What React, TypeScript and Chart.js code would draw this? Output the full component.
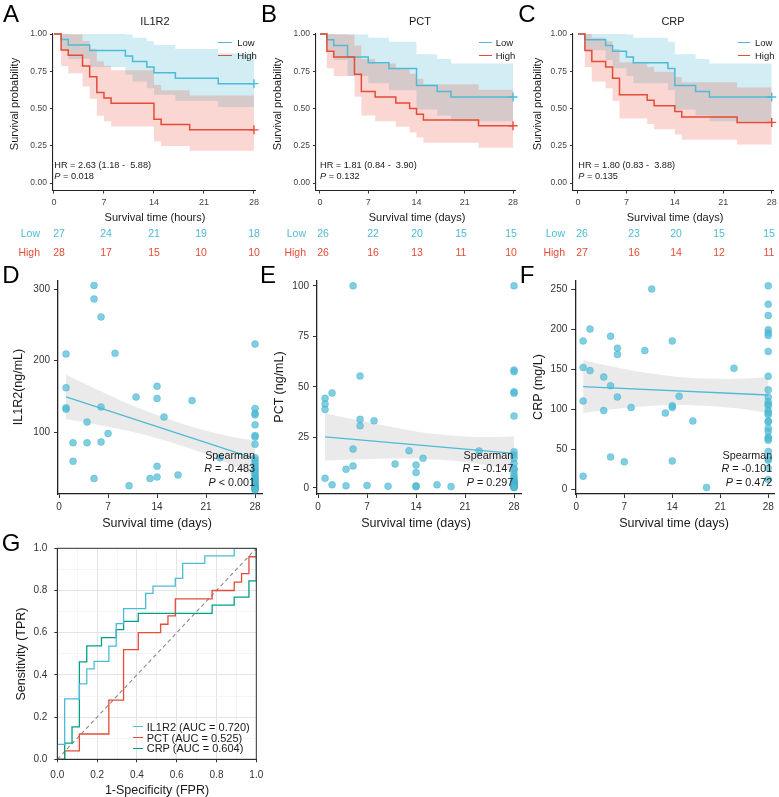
import React, { useEffect, useRef } from "react";
import { Chart, registerables } from "chart.js";

Chart.register(...registerables);

const W = 779;
const H = 797;
const FONT = "'Liberation Sans', Arial, Helvetica, sans-serif";
Chart.defaults.font.family = FONT;

const CYAN = "#4DBBD5";
const RED = "#E64B35";
const TEAL = "#00A087";
const CYAN_FILL = "rgba(77,187,213,0.25)";
const RED_FILL = "rgba(230,75,53,0.22)";
const PT_FILL = "rgba(77,187,213,0.72)";
const BAND_FILL = "rgba(180,180,180,0.28)";

// ---------- Kaplan-Meier (A-C) ----------
const KM_XTICKS = [0, 7, 14, 21, 28];
const KM_YTICKS = [0, 0.25, 0.5, 0.75, 1];

const A_LOW_T = [0, 1, 2, 5, 10, 11, 13, 14, 17, 23, 28];
const A_LOW_S = [1, 0.963, 0.926, 0.889, 0.852, 0.815, 0.778, 0.741, 0.704, 0.667, 0.667];
const A_LOW_LO = [1, 0.894, 0.832, 0.778, 0.728, 0.681, 0.636, 0.593, 0.551, 0.511, 0.511];
const A_LOW_HI = [1, 1, 1, 1, 0.997, 0.975, 0.951, 0.926, 0.899, 0.871, 0.871];
const A_HIGH_T = [0, 1, 2, 4, 5, 6, 7, 8, 14, 15, 19, 28];
const A_HIGH_S = [1, 0.893, 0.857, 0.786, 0.714, 0.607, 0.571, 0.536, 0.429, 0.393, 0.357, 0.357];
const A_HIGH_LO = [1, 0.785, 0.737, 0.648, 0.565, 0.451, 0.414, 0.38, 0.28, 0.248, 0.217, 0.217];
const A_HIGH_HI = [1, 1, 0.997, 0.954, 0.902, 0.818, 0.787, 0.757, 0.658, 0.623, 0.587, 0.587];

const B_LOW_T = [0, 1, 2, 4, 7, 10, 14, 17, 19, 28];
const B_LOW_S = [1, 0.962, 0.923, 0.846, 0.808, 0.769, 0.654, 0.615, 0.577, 0.577];
const B_LOW_LO = [1, 0.891, 0.826, 0.718, 0.67, 0.623, 0.494, 0.454, 0.415, 0.415];
const B_LOW_HI = [1, 1, 1, 0.997, 0.975, 0.949, 0.865, 0.833, 0.802, 0.802];
const B_HIGH_T = [0, 1, 2, 5, 6, 8, 11, 13, 14, 15, 23, 28];
const B_HIGH_S = [1, 0.885, 0.846, 0.731, 0.615, 0.577, 0.538, 0.5, 0.462, 0.423, 0.385, 0.385];
const B_HIGH_LO = [1, 0.77, 0.718, 0.579, 0.454, 0.415, 0.377, 0.34, 0.305, 0.27, 0.237, 0.237];
const B_HIGH_HI = [1, 1, 0.997, 0.923, 0.833, 0.802, 0.768, 0.734, 0.7, 0.663, 0.626, 0.626];

const C_LOW_T = [0, 1, 4, 5, 7, 8, 13, 14, 17, 19, 28];
const C_LOW_S = [1, 0.962, 0.923, 0.885, 0.846, 0.808, 0.769, 0.654, 0.615, 0.577, 0.577];
const C_LOW_LO = [1, 0.891, 0.826, 0.77, 0.718, 0.67, 0.623, 0.494, 0.454, 0.415, 0.415];
const C_LOW_HI = [1, 1, 1, 1, 0.997, 0.975, 0.949, 0.865, 0.833, 0.802, 0.802];
const C_HIGH_T = [0, 1, 2, 4, 5, 6, 10, 11, 14, 15, 23, 28];
const C_HIGH_S = [1, 0.889, 0.815, 0.778, 0.704, 0.593, 0.556, 0.519, 0.481, 0.444, 0.407, 0.407];
const C_HIGH_LO = [1, 0.778, 0.681, 0.636, 0.551, 0.434, 0.397, 0.361, 0.325, 0.291, 0.258, 0.258];
const C_HIGH_HI = [1, 1, 0.975, 0.951, 0.899, 0.811, 0.779, 0.747, 0.711, 0.677, 0.641, 0.641];

// numbers at risk
const A_RISK_LOW = [27, 24, 21, 19, 18];
const A_RISK_HIGH = [28, 17, 15, 10, 10];
const B_RISK_LOW = [26, 22, 20, 15, 15];
const B_RISK_HIGH = [26, 16, 13, 11, 10];
const C_RISK_LOW = [26, 23, 20, 15, 15];
const C_RISK_HIGH = [27, 16, 14, 12, 11];

// ---------- Scatter (D-F) ----------
const SC_XTICKS = [0, 7, 14, 21, 28];
const D_YTICKS = [100, 200, 300];
const E_YTICKS = [0, 25, 50, 75, 100];
const F_YTICKS = [0, 50, 100, 150, 200, 250];

const D_DAYS = [1, 1, 1, 1, 2, 2, 4, 4, 5, 5, 5, 6, 6, 6, 7, 8, 10, 11, 13, 14, 14, 14, 14, 15, 17, 19, 23,
  28, 28, 28, 28, 28, 28, 28, 28, 28, 28, 28, 28, 28, 28, 28, 28, 28, 28, 28, 28, 28, 28, 28, 28, 28, 28, 28, 28];
const D_IL1R2 = [209, 162, 134, 132, 85, 59, 114, 85, 305, 286, 35, 261, 135, 86, 98, 210, 25, 149, 35, 164, 147, 52, 37, 121, 40, 144, 64,
  223, 133, 126, 124, 110, 95, 93, 83, 64, 60, 56, 52, 48, 45, 42, 39, 36, 34, 32, 30, 28, 26, 24, 23, 22, 21, 20, 19];

const E_DAYS = [1, 1, 1, 1, 2, 2, 4, 4, 5, 5, 5, 6, 6, 6, 7, 8, 10, 11, 13, 14, 14, 14, 14, 15, 17, 19, 23,
  28, 28, 28, 28, 28, 28, 28, 28, 28, 28, 28, 28, 28, 28, 28, 28, 28, 28, 28, 28, 28, 28, 28, 28, 28, 28, 28, 28];
const E_PCT = [44.3, 41.5, 38.8, 4.7, 47, 1.5, 9.2, 1, 100, 19.2, 10.8, 55.3, 33.9, 30.7, 1.2, 33.2, 0.8, 11.8, 18.4, 11.3, 7.6, 1, 0.5, 14.6, 1.5, 0.6, 18.2,
  100, 58.3, 57.5, 47.5, 46.8, 35.5, 17.9, 16.2, 14.6, 12, 9.6, 8.8, 7, 5.5, 4.5, 3.5, 3, 2.5, 2, 1.8, 1.5, 1.2, 1, 0.8, 0.6, 0.4, 0.2, 0.1];

const F_DAYS = [1, 1, 1, 1, 2, 2, 4, 4, 5, 5, 5, 6, 6, 6, 7, 8, 10, 11, 13, 14, 14, 14, 14, 15, 17, 19, 23,
  28, 28, 28, 28, 28, 28, 28, 28, 28, 28, 28, 28, 28, 28, 28, 28, 28, 28, 28, 28, 28, 28, 28, 28, 28, 28, 28, 28];
const F_CRP = [185, 152, 110, 16, 200, 148, 140, 98, 191, 129, 40, 176, 168, 115, 34, 102, 173, 250, 95, 185, 104, 102, 35, 116, 85, 2, 151,
  254, 231, 217, 199, 195, 192, 172, 141, 124, 115, 109, 106, 104, 98, 95, 93, 85, 84, 76, 72, 65, 63, 61, 47, 38, 36, 26, 12];

// fitted lines and 95% bands
const FIT_T = [1, 28];
const D_FIT = [149, 62.9];
const E_FIT = [25.2, 17.0];
const F_FIT = [128, 117.5];
const BAND_T = [1, 5, 10, 15, 20, 25, 28];
const D_BAND_HI = [180, 161.3, 139.3, 120.4, 104.5, 92.6, 87.9];
const D_BAND_LO = [118, 111.3, 101.3, 88.4, 72.5, 52.6, 37.9];
const E_BAND_HI = [36.9, 34, 30.5, 27.4, 25.7, 25.1, 25.5];
const E_BAND_LO = [13.5, 14, 14.5, 14.4, 13.1, 10.7, 8.5];
const F_BAND_HI = [161, 153.4, 145.5, 140.1, 137.8, 138.2, 140];
const F_BAND_LO = [95, 99.4, 103.5, 105.1, 103.4, 99.2, 95];

// ---------- ROC (G) ----------
const ROC_GRID = [0, 0.1, 0.2, 0.3, 0.4, 0.5, 0.6, 0.7, 0.8, 0.9, 1];
const IL1R2_FPR = [0, 0, 0.037, 0.037, 0.111, 0.111, 0.148, 0.148, 0.185, 0.185, 0.259, 0.259, 0.296, 0.296, 0.333, 0.333, 0.444, 0.444, 0.481, 0.481, 0.593, 0.593, 0.63, 0.63, 0.741, 0.741, 0.889, 0.889, 1];
const IL1R2_TPR = [0, 0.071, 0.071, 0.286, 0.286, 0.357, 0.357, 0.429, 0.429, 0.464, 0.464, 0.536, 0.536, 0.643, 0.643, 0.714, 0.714, 0.786, 0.786, 0.821, 0.821, 0.857, 0.857, 0.929, 0.929, 0.964, 0.964, 1, 1];
const PCT_FPR = [0, 0.037, 0.037, 0.111, 0.111, 0.259, 0.259, 0.333, 0.333, 0.407, 0.407, 0.519, 0.519, 0.556, 0.556, 0.593, 0.593, 0.778, 0.778, 0.889, 0.889, 0.926, 0.926, 0.963, 0.963, 1, 1];
const PCT_TPR = [0, 0, 0.04, 0.04, 0.12, 0.12, 0.28, 0.28, 0.52, 0.52, 0.6, 0.6, 0.64, 0.64, 0.68, 0.68, 0.76, 0.76, 0.8, 0.8, 0.84, 0.84, 0.88, 0.88, 0.96, 0.96, 1];
const CRP_FPR = [0, 0.037, 0.037, 0.074, 0.074, 0.111, 0.111, 0.148, 0.148, 0.222, 0.222, 0.296, 0.296, 0.333, 0.333, 0.407, 0.407, 0.778, 0.778, 0.889, 0.889, 0.963, 0.963, 1, 1];
const CRP_TPR = [0, 0, 0.077, 0.077, 0.154, 0.154, 0.462, 0.462, 0.538, 0.538, 0.577, 0.577, 0.615, 0.615, 0.654, 0.654, 0.692, 0.692, 0.731, 0.731, 0.769, 0.769, 0.846, 0.846, 1];
const DIAG = [0, 1];

// ---------- helpers ----------
const zip = (xs: number[], ys: number[]) => xs.map((x, i) => ({ x, y: ys[i] }));

function pad(L: number, T: number, R: number, B: number, yw: number, xh: number) {
  return { left: L - yw, top: T, right: W - R, bottom: H - B - xh };
}

function axis(kind: "x" | "y", o: any) {
  return {
    type: "linear",
    position: kind === "x" ? "bottom" : "left",
    min: o.min,
    max: o.max,
    afterBuildTicks: (s: any) => {
      s.ticks = o.ticks.map((v: number) => ({ value: v }));
    },
    afterFit: (s: any) => {
      if (kind === "x") s.height = o.fit;
      else s.width = o.fit;
      s.paddingLeft = 0;
      s.paddingRight = 0;
      s.paddingTop = 0;
      s.paddingBottom = 0;
    },
    grid: {
      display: true,
      drawOnChartArea: !!o.gridOn,
      drawTicks: true,
      tickLength: o.tickLen,
      color: o.gridColor || "#333",
      tickColor: o.tickColor || "#333",
      lineWidth: o.lineWidth || 1,
      tickWidth: 1,
    },
    border: { display: true, color: "#222", width: o.borderWidth || 1.1 },
    ticks: {
      autoSkip: false,
      maxRotation: 0,
      minRotation: 0,
      padding: o.pad,
      color: o.color || "#333",
      font: { family: FONT, size: o.size },
      callback: (v: any) => o.fmt(Number(v)),
    },
  };
}

const baseOpts = (padding: any, scales: any) => ({
  responsive: false,
  animation: false,
  events: [],
  layout: { padding },
  plugins: { legend: { display: false }, tooltip: { enabled: false }, title: { display: false } },
  scales,
});

const KM_T = 33.3;
const KM_B = 190.5;
const KM_PANELS = [
  { L: 52.9, R: 255.4, xmin: -0.15, xmax: 28.2, low: [A_LOW_T, A_LOW_S, A_LOW_LO, A_LOW_HI], high: [A_HIGH_T, A_HIGH_S, A_HIGH_LO, A_HIGH_HI] },
  { L: 316, R: 515.1, xmin: -0.58, xmax: 28.3, low: [B_LOW_T, B_LOW_S, B_LOW_LO, B_LOW_HI], high: [B_HIGH_T, B_HIGH_S, B_HIGH_LO, B_HIGH_HI] },
  { L: 573, R: 773.4, xmin: -0.72, xmax: 28.2, low: [C_LOW_T, C_LOW_S, C_LOW_LO, C_LOW_HI], high: [C_HIGH_T, C_HIGH_S, C_HIGH_LO, C_HIGH_HI] },
];

function kmLine(g: number[][], color: string) {
  const n = g[0].length;
  return {
    data: zip(g[0], g[1]),
    stepped: "before",
    borderColor: color,
    borderWidth: 1.5,
    pointStyle: "cross",
    pointRadius: (c: any) => (c.dataIndex === n - 1 ? 4.5 : 0),
    pointBorderColor: color,
    pointBorderWidth: 1.4,
    fill: false,
    clip: false,
  };
}
function kmBand(xs: number[], ys: number[], fillColor: string | null) {
  return {
    data: zip(xs, ys),
    stepped: "before",
    borderWidth: 0,
    borderColor: "rgba(0,0,0,0)",
    pointRadius: 0,
    fill: fillColor ? "+1" : false,
    backgroundColor: fillColor || "rgba(0,0,0,0)",
  };
}

function kmConfig(p: any) {
  return {
    type: "line",
    data: {
      datasets: [
        kmLine(p.high, RED),
        kmLine(p.low, CYAN),
        kmBand(p.high[0], p.high[3], RED_FILL),
        kmBand(p.high[0], p.high[2], null),
        kmBand(p.low[0], p.low[3], CYAN_FILL),
        kmBand(p.low[0], p.low[2], null),
      ],
    },
    options: baseOpts(pad(p.L, KM_T, p.R, KM_B, 30, 20), {
      x: axis("x", { min: p.xmin, max: p.xmax, ticks: KM_XTICKS, fit: 20, tickLen: 3, pad: 4, size: 9, color: "#444", fmt: (v: number) => String(v) }),
      y: axis("y", { min: -0.05, max: 1.005, ticks: KM_YTICKS, fit: 30, tickLen: 3, pad: 3, size: 8.5, color: "#444", fmt: (v: number) => v.toFixed(2) }),
    }),
  };
}

const SC_T = 281;
const SC_B = 494;
const SC_PANELS = [
  { L: 58, R: 262, ymin: 13.3, ymax: 311.2, yt: D_YTICKS, days: D_DAYS, vals: D_IL1R2, fit: D_FIT, hi: D_BAND_HI, lo: D_BAND_LO },
  { L: 317, R: 521, ymin: -3.07, ymax: 102.4, yt: E_YTICKS, days: E_DAYS, vals: E_PCT, fit: E_FIT, hi: E_BAND_HI, lo: E_BAND_LO },
  { L: 575.25, R: 778.6, ymin: -6.25, ymax: 260, yt: F_YTICKS, days: F_DAYS, vals: F_CRP, fit: F_FIT, hi: F_BAND_HI, lo: F_BAND_LO },
];

function scConfig(p: any) {
  return {
    type: "line",
    data: {
      datasets: [
        { data: zip(p.days, p.vals), showLine: false, pointRadius: 3.5, pointBackgroundColor: PT_FILL, pointBorderColor: "rgba(60,170,200,0.55)", pointBorderWidth: 0.6, clip: false },
        { data: zip(FIT_T, p.fit), borderColor: CYAN, borderWidth: 1.3, pointRadius: 0, fill: false },
        { data: zip(BAND_T, p.hi), borderWidth: 0, borderColor: "rgba(0,0,0,0)", pointRadius: 0, tension: 0.35, fill: "+1", backgroundColor: BAND_FILL },
        { data: zip(BAND_T, p.lo), borderWidth: 0, borderColor: "rgba(0,0,0,0)", pointRadius: 0, tension: 0.35, fill: false },
      ],
    },
    options: baseOpts(pad(p.L, SC_T, p.R, SC_B, 30, 20), {
      x: axis("x", { min: -0.15, max: (p.R - p.L) / 7 - 0.15, ticks: SC_XTICKS, fit: 20, tickLen: 4, pad: 3, size: 10, color: "#333", borderWidth: 1.3, fmt: (v: number) => String(v) }),
      y: axis("y", { min: p.ymin, max: p.ymax, ticks: p.yt, fit: 30, tickLen: 4, pad: 4, size: 10, color: "#333", borderWidth: 1.3, fmt: (v: number) => String(v) }),
    }),
  };
}

const isMajor = (v: number) => Math.round(v * 10) % 2 === 0;
const boxPlugin = {
  id: "panelBox",
  afterDatasetsDraw(chart: any) {
    const { ctx, chartArea: a } = chart;
    ctx.save();
    ctx.strokeStyle = "#333";
    ctx.lineWidth = 1;
    ctx.strokeRect(a.left, a.top, a.right - a.left, a.bottom - a.top);
    ctx.restore();
  },
};

function rocConfig() {
  const gridOpt = (kind: "x" | "y") =>
    axis(kind, {
      min: 0,
      max: 1,
      ticks: ROC_GRID,
      fit: kind === "x" ? 20 : 30,
      tickLen: 3,
      pad: 7,
      size: 10,
      color: "#333",
      gridOn: true,
      gridColor: (c: any) => (isMajor(c.tick.value) ? "#e4e4e4" : "#f1f1f1"),
      tickColor: (c: any) => (isMajor(c.tick.value) ? "#333" : "rgba(0,0,0,0)"),
      lineWidth: (c: any) => (isMajor(c.tick.value) ? 1 : 0.7),
      borderWidth: 1,
      fmt: (v: number) => (isMajor(v) ? v.toFixed(1) : ""),
    });
  return {
    type: "line",
    data: {
      datasets: [
        { data: zip(IL1R2_FPR, IL1R2_TPR), borderColor: CYAN, borderWidth: 1.3, pointRadius: 0, fill: false },
        { data: zip(CRP_FPR, CRP_TPR), borderColor: TEAL, borderWidth: 1.3, pointRadius: 0, fill: false },
        { data: zip(PCT_FPR, PCT_TPR), borderColor: RED, borderWidth: 1.3, pointRadius: 0, fill: false },
        { data: zip(DIAG, DIAG), borderColor: "#8a8a8a", borderWidth: 1.1, borderDash: [4, 3], pointRadius: 0, fill: false },
      ],
    },
    options: baseOpts(pad(57.3, 548.3, 256.3, 759.3, 30, 20), { x: gridOpt("x"), y: gridOpt("y") }),
    plugins: [boxPlugin],
  };
}

// ---------- text overlay ----------
function Txt(props: any) {
  const { x, y, s, c = "#1a1a1a", a = "c", r = false, children } = props;
  const tx = a === "l" ? "0" : a === "r" ? "-100%" : "-50%";
  return (
    <div
      style={{
        position: "absolute",
        left: x,
        top: y,
        transform: r ? "translate(-50%,-50%) rotate(-90deg)" : `translate(${tx},-50%)`,
        fontSize: s,
        fontFamily: FONT,
        color: c,
        lineHeight: 1,
        whiteSpace: "pre",
      }}
    >
      {children}
    </div>
  );
}
function Seg(props: any) {
  const { x1, x2, y, c, w = 1.6 } = props;
  return <div style={{ position: "absolute", left: x1, top: y - w / 2, width: x2 - x1, height: w, background: c }} />;
}

const RISK_X = [
  [59, 106, 154, 201, 254],
  [323, 373, 417, 461, 511],
  [582, 634, 676, 719, 769],
];
const RISK = [
  [A_RISK_LOW, A_RISK_HIGH],
  [B_RISK_LOW, B_RISK_HIGH],
  [C_RISK_LOW, C_RISK_HIGH],
];
const RISK_LABEL_R = [40, 306, 565];
const KM_TITLES = ["IL1R2", "PCT", "CRP"];
const KM_TITLE_X = [155, 420, 673];
const KM_YT_X = [14, 277, 537];
const KM_XT = ["Survival time (hours)", "Survival time (days)", "Survival time (days)"];
const KM_XT_X = [155, 417, 675];
const HR_TXT = ["HR = 2.63 (1.18 -  5.88)", "HR = 1.81 (0.84 -  3.90)", "HR = 1.80 (0.83 -  3.88)"];
const P_TXT = [" = 0.018", " = 0.132", " = 0.135"];
const HR_X = [54.3, 320, 578.3];
const LEG_X = [[218.3, 231.7, 237.3], [479, 491.7, 495.7], [738.3, 750, 755]];

const SC_YT = ["IL1R2(ng/mL)", "PCT (ng/mL)", "CRP (mg/L)"];
const SC_YT_X = [18, 279, 538];
const SC_XT_X = [157, 416, 674];
const SP_R = ["-0.483", "-0.147", "-0.101"];
const SP_P = [" < 0.001", " = 0.297", " = 0.472"];
const SP_X = [255, 513.3, 772.3];

const LETTERS = [
  ["A", 11, 14], ["B", 269, 14], ["C", 527, 14],
  ["D", 11, 275], ["E", 268, 275], ["F", 527, 275], ["G", 11, 543],
];

const ROC_LEG = [
  ["IL1R2 (AUC = 0.720)", CYAN],
  ["PCT (AUC = 0.525)", RED],
  ["CRP (AUC = 0.604)", TEAL],
];
const ROC_LEG_Y = [726.7, 737.5, 748.3];

export default function App() {
  const refs = useRef<(HTMLCanvasElement | null)[]>([]);
  const N = 7;
  useEffect(() => {
    const cfgs: any[] = [...KM_PANELS.map(kmConfig), ...SC_PANELS.map(scConfig), rocConfig()];
    const charts = cfgs.map((cfg, i) => new Chart(refs.current[i] as HTMLCanvasElement, cfg));
    return () => charts.forEach((c) => c.destroy());
  }, []);

  const texts: any[] = [];
  LETTERS.forEach(([t, x, y]: any) => texts.push(<Txt key={"L" + t} x={x} y={y} s={24} c="#000">{t}</Txt>));
  for (let i = 0; i < 3; i++) {
    texts.push(<Txt key={"kt" + i} x={KM_TITLE_X[i]} y={20.7} s={11}>{KM_TITLES[i]}</Txt>);
    texts.push(<Txt key={"ky" + i} x={KM_YT_X[i]} y={104} s={11} r>Survival probability</Txt>);
    texts.push(<Txt key={"kx" + i} x={KM_XT_X[i]} y={217} s={11}>{KM_XT[i]}</Txt>);
    texts.push(<Txt key={"hr" + i} x={HR_X[i]} y={165.7} s={9.2} a="l">{HR_TXT[i]}</Txt>);
    texts.push(
      <Txt key={"p" + i} x={HR_X[i]} y={176.7} s={9.2} a="l">
        <i>P</i>
        {P_TXT[i]}
      </Txt>
    );
    const [l1, l2, lt] = LEG_X[i];
    texts.push(<Seg key={"lg1" + i} x1={l1} x2={l2} y={42.7} c={CYAN} />);
    texts.push(<Seg key={"lg2" + i} x1={l1} x2={l2} y={55.7} c={RED} />);
    texts.push(<Txt key={"lt1" + i} x={lt} y={42.7} s={9.5} a="l">Low</Txt>);
    texts.push(<Txt key={"lt2" + i} x={lt} y={55.7} s={9.5} a="l">High</Txt>);
    texts.push(<Txt key={"rl" + i} x={RISK_LABEL_R[i]} y={233} s={10.5} a="r" c={CYAN}>Low</Txt>);
    texts.push(<Txt key={"rh" + i} x={RISK_LABEL_R[i]} y={252} s={10.5} a="r" c={RED}>High</Txt>);
    RISK[i][0].forEach((v, j) => texts.push(<Txt key={`rl${i}-${j}`} x={RISK_X[i][j]} y={233} s={10.5} c={CYAN}>{String(v)}</Txt>));
    RISK[i][1].forEach((v, j) => texts.push(<Txt key={`rh${i}-${j}`} x={RISK_X[i][j]} y={252} s={10.5} c={RED}>{String(v)}</Txt>));

    texts.push(<Txt key={"sy" + i} x={SC_YT_X[i]} y={387} s={12.5} r>{SC_YT[i]}</Txt>);
    texts.push(<Txt key={"sx" + i} x={SC_XT_X[i]} y={523} s={12.5}>Survival time (days)</Txt>);
    texts.push(<Txt key={"sp" + i} x={SP_X[i]} y={455} s={10.8} a="r">Spearman</Txt>);
    texts.push(
      <Txt key={"sr" + i} x={SP_X[i]} y={468.3} s={10.8} a="r">
        <i>R</i>
        {" = " + SP_R[i]}
      </Txt>
    );
    texts.push(
      <Txt key={"spp" + i} x={SP_X[i]} y={481.5} s={10.8} a="r">
        <i>P</i>
        {SP_P[i]}
      </Txt>
    );
  }
  texts.push(<Txt key="gy" x={21} y={654} s={12.5} r>Sensitivity (TPR)</Txt>);
  texts.push(<Txt key="gx" x={157} y={790} s={12.5}>1-Specificity (FPR)</Txt>);
  ROC_LEG.forEach(([t, c]: any, i) => {
    texts.push(<Seg key={"gl" + i} x1={133.3} x2={143.3} y={ROC_LEG_Y[i]} c={c} w={1.5} />);
    texts.push(<Txt key={"gt" + i} x={146.7} y={ROC_LEG_Y[i]} s={11} a="l">{t}</Txt>);
  });

  return (
    <div style={{ position: "absolute", left: 0, top: 0, width: W, height: H, background: "#fff", overflow: "hidden" }}>
      {Array.from({ length: N }).map((_, i) => (
        <canvas
          key={i}
          ref={(el) => {
            refs.current[i] = el;
          }}
          width={W}
          height={H}
          style={{ position: "absolute", left: 0, top: 0 }}
        />
      ))}
      {texts}
    </div>
  );
}
